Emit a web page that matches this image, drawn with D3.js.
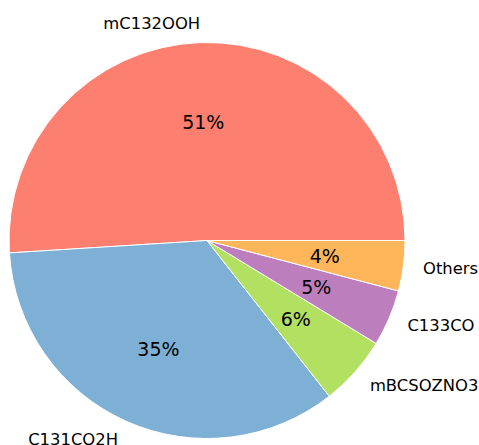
<!DOCTYPE html>
<html>
<head>
<meta charset="utf-8">
<script src="https://cdn.jsdelivr.net/npm/d3@7"></script>
<style>
  html, body { margin: 0; padding: 0; background: #fff; }
  svg { display: block; }
  text { font-family: "DejaVu Sans", sans-serif; fill: #000; }
</style>
</head>
<body>
<svg id="chart" width="479" height="445"></svg>
<script>
// Share of each species (percent)
const species = ["mC132OOH", "C131CO2H", "mBCSOZNO3", "C133CO", "Others"];
const shares  = [51.0, 34.6, 5.7, 4.6, 4.1];
const colors  = ["#fd7f6f", "#7eb0d5", "#b2e061", "#bd7ebe", "#ffb55a"];

const W = 479, H = 445;
const cx = 207, cy = 240.5, R = 198;

const svg = d3.select("#chart");
const g = svg.append("g").attr("transform", `translate(${cx},${cy})`);

// Wedges start at 3 o'clock and run counter-clockwise
const pie = d3.pie()
  .sort(null)
  .value(d => d.value)
  .startAngle(Math.PI / 2)
  .endAngle(Math.PI / 2 - 2 * Math.PI);

const data = species.map((s, i) => ({ name: s, value: shares[i], color: colors[i] }));
const arcs = pie(data);

const arc = d3.arc().innerRadius(0).outerRadius(R);

g.selectAll("path.wedge")
  .data(arcs)
  .join("path")
  .attr("class", "wedge")
  .attr("d", arc)
  .attr("fill", d => d.data.color)
  .attr("stroke", "#fff")
  .attr("stroke-width", 1)
  .attr("stroke-linejoin", "round");

const mid = d => (d.startAngle + d.endAngle) / 2;

// Percentage labels inside the wedges
g.selectAll("text.pct")
  .data(arcs)
  .join("text")
  .attr("class", "pct")
  .attr("x", d => Math.sin(mid(d)) * R * 0.6)
  .attr("y", d => -Math.cos(mid(d)) * R * 0.6)
  .attr("dy", "0.36em")
  .attr("text-anchor", "middle")
  .style("font-size", "19px")
  .text(d => `${Math.round(d.data.value)}%`);

// Category labels outside the wedges
g.selectAll("text.name")
  .data(arcs)
  .join("text")
  .attr("class", "name")
  .attr("x", d => Math.sin(mid(d)) * R * 1.1)
  .attr("y", d => -Math.cos(mid(d)) * R * 1.1)
  .attr("dy", "0.35em")
  .attr("text-anchor", d => Math.sin(mid(d)) < 0 ? "end" : "start")
  .style("font-size", "16.4px")
  .text(d => d.data.name);
</script>
</body>
</html>
